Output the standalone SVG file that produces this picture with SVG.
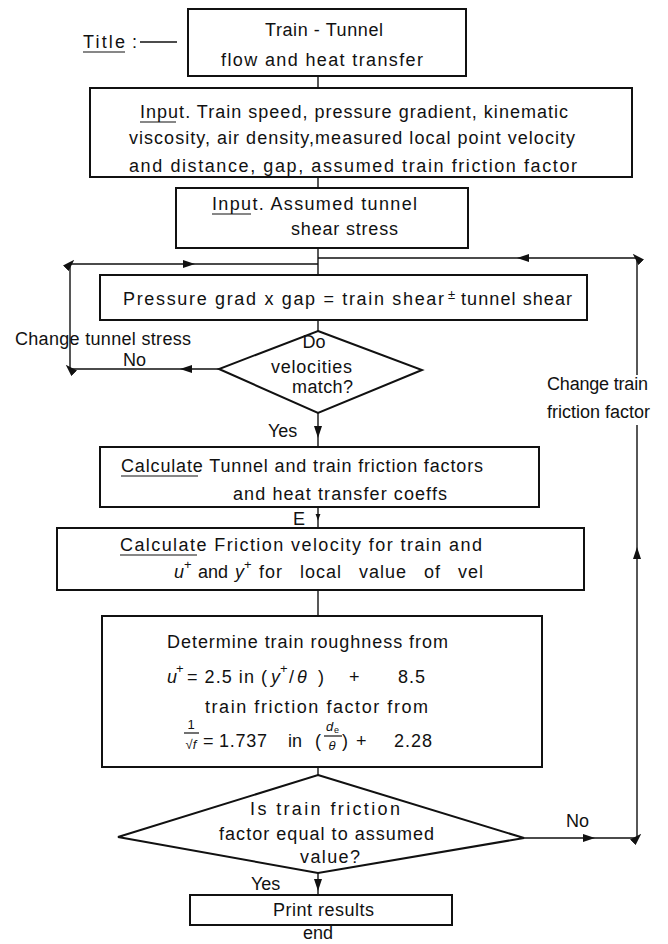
<svg xmlns="http://www.w3.org/2000/svg" width="668" height="944" viewBox="0 0 668 944">
<defs>
<style>
text{font-family:"Liberation Sans","DejaVu Sans",Arial,sans-serif;font-size:18px;fill:#111;}
.box{fill:#fff;stroke:#111;stroke-width:2;}
.ln{fill:none;stroke:#111;stroke-width:1.4;}
.ul{stroke:#111;stroke-width:1.2;}
.c{text-anchor:middle;}
.it{font-style:italic;}
.sm{font-size:13px;}
</style>
<marker id="arr" viewBox="0 0 12 8" refX="6" refY="4" markerWidth="12" markerHeight="8" orient="auto" markerUnits="userSpaceOnUse"><path d="M0,0 L12,4 L0,8 z" fill="#111"/></marker>
<marker id="dot" viewBox="0 0 8 8" refX="4" refY="4" markerWidth="7" markerHeight="7" orient="auto" markerUnits="userSpaceOnUse"><path d="M0,1 L8,4 L0,7 z" fill="#111"/></marker>
</defs>
<rect width="668" height="944" fill="#fff"/>

<g id="connectors">
<path class="ln" d="M318,77 V88"/>
<path class="ln" d="M318,177 V188"/>
<path class="ln" d="M318,248 V275"/>
<path class="ln" d="M637,375 V258 H523 H318" marker-mid="url(#arr)"/>
<path class="ln" d="M219,369 H186 H70 V264 H189 H318" marker-mid="url(#arr)"/>
<path class="ln" d="M318,320 V331"/>
<path class="ln" d="M318,413 V432 V447" marker-mid="url(#arr)"/>
<path class="ln" d="M318,507 V517 V528" marker-mid="url(#dot)"/>
<path class="ln" d="M318,590 V616"/>
<path class="ln" d="M318,767 V775"/>
<path class="ln" d="M524,838 H589 H637 V553 V425" marker-mid="url(#arr)"/>
<path class="ln" d="M318,873 V885 V895" marker-mid="url(#arr)"/>
</g>

<g id="title-label">
<text x="83" y="48" textLength="42" lengthAdjust="spacing">Title</text>
<line class="ul" x1="83" y1="52" x2="125" y2="52"/>
<text x="132" y="48">:</text>
<line class="ul" x1="140" y1="42" x2="177" y2="42" style="stroke-width:1.6"/>
</g>

<g id="title">
<rect class="box" x="188" y="9" width="278" height="67"/>
<text x="265" y="36" textLength="118" lengthAdjust="spacing">Train - Tunnel</text>
<text x="221" y="66" textLength="202" lengthAdjust="spacing">flow and heat transfer</text>
</g>

<g id="input1">
<rect class="box" x="90" y="88" width="542" height="89"/>
<text x="140" y="118" textLength="428" lengthAdjust="spacing">Input. Train speed, pressure gradient, kinematic</text>
<line class="ul" x1="140" y1="122" x2="176" y2="122"/>
<text x="129" y="144" textLength="446" lengthAdjust="spacing">viscosity, air density,measured local point velocity</text>
<text x="129" y="172" textLength="448" lengthAdjust="spacing">and distance, gap, assumed train friction factor</text>
</g>

<g id="input2">
<rect class="box" x="176" y="188" width="292" height="60"/>
<text x="212" y="210" textLength="205" lengthAdjust="spacing">Input. Assumed tunnel</text>
<line class="ul" x1="212" y1="214" x2="251" y2="214"/>
<text x="291" y="235" textLength="107" lengthAdjust="spacing">shear stress</text>
</g>

<g id="pressure">
<rect class="box" x="100" y="275" width="487" height="45"/>
<text x="123" y="305" textLength="321" lengthAdjust="spacing">Pressure grad x gap = train shear</text>
<text x="448" y="299" class="sm">±</text>
<text x="461" y="305" textLength="111" lengthAdjust="spacing">tunnel shear</text>
</g>

<g id="decision1">
<path class="box" d="M318,331 L422,370 L318,413 L219,369 Z"/>
<text class="c" x="314" y="348">Do</text>
<text x="271" y="373" textLength="81" lengthAdjust="spacing">velocities</text>
<text x="292" y="393" textLength="61" lengthAdjust="spacing">match?</text>
</g>

<g id="label-change-tunnel">
<text x="15" y="345" textLength="176" lengthAdjust="spacing">Change tunnel stress</text>
<text x="123" y="366">No</text>
</g>

<g id="label-change-train">
<text x="547" y="390" textLength="101" lengthAdjust="spacing">Change train</text>
<text x="547" y="418" textLength="103" lengthAdjust="spacing">friction factor</text>
</g>

<g id="label-yes1">
<text x="268" y="437">Yes</text>
</g>

<g id="calc1">
<rect class="box" x="100" y="447" width="439" height="60"/>
<text x="121" y="472" textLength="362" lengthAdjust="spacing">Calculate Tunnel and train friction factors</text>
<line class="ul" x1="121" y1="476" x2="198" y2="476"/>
<text x="233" y="500" textLength="214" lengthAdjust="spacing">and heat transfer coeffs</text>
</g>

<g id="label-e">
<text x="293" y="525">E</text>
</g>

<g id="calc2">
<rect class="box" x="57" y="528" width="527" height="62"/>
<text x="120" y="551" textLength="362" lengthAdjust="spacing">Calculate Friction velocity for train and</text>
<line class="ul" x1="120" y1="555" x2="197" y2="555"/>
<text x="174" y="578" class="it">u</text>
<text x="184" y="569" class="sm">+</text>
<text x="198" y="578">and</text>
<text x="235" y="578" class="it">y</text>
<text x="244" y="569" class="sm">+</text>
<text x="259" y="578" style="letter-spacing:1px;word-spacing:11px">for local value of vel</text>
</g>

<g id="determine">
<rect class="box" x="102" y="616" width="440" height="151"/>
<text x="167" y="648" textLength="281" lengthAdjust="spacing">Determine train roughness from</text>
<text x="167" y="683" class="it">u</text>
<text x="176" y="673" class="sm">+</text>
<text x="187" y="683" textLength="80" lengthAdjust="spacing">= 2.5 in (</text>
<text x="271" y="683" class="it">y</text>
<text x="280" y="673" class="sm">+</text>
<text x="289" y="683">/</text>
<text x="297" y="683" class="it">θ</text>
<text x="318" y="683">)</text>
<text x="349" y="683">+</text>
<text x="398" y="683" style="letter-spacing:1px">8.5</text>
<text x="205" y="713" textLength="223" lengthAdjust="spacing">train friction factor from</text>
<text class="c sm" x="191" y="729">1</text>
<line class="ul" x1="184" y1="733" x2="199" y2="733"/>
<text class="c sm" x="191" y="749">√<tspan class="it">f</tspan></text>
<text x="203" y="747">=</text>
<text x="219" y="747" textLength="48" lengthAdjust="spacing">1.737</text>
<text x="288" y="747">in</text>
<text x="315" y="747">(</text>
<text x="326" y="731" class="it sm">d</text>
<text x="334" y="733" style="font-size:9px">e</text>
<line class="ul" x1="324" y1="736" x2="342" y2="736"/>
<text class="c it sm" x="332" y="750">θ</text>
<text x="342" y="747">)</text>
<text x="356" y="747">+</text>
<text x="394" y="747" style="letter-spacing:1px">2.28</text>
</g>

<g id="decision2">
<path class="box" d="M318,775 L524,838 L318,873 L118,837 Z"/>
<text x="250" y="815" textLength="150" lengthAdjust="spacing">Is train friction</text>
<text x="219" y="840" textLength="215" lengthAdjust="spacing">factor equal to assumed</text>
<text x="300" y="863" textLength="60" lengthAdjust="spacing">value?</text>
</g>

<g id="label-no2">
<text x="566" y="827">No</text>
</g>

<g id="label-yes2">
<text x="251" y="890">Yes</text>
</g>

<g id="print">
<rect class="box" x="190" y="895" width="262" height="30"/>
<text x="273" y="916" textLength="101" lengthAdjust="spacing">Print results</text>
</g>

<g id="end">
<text class="c" x="318" y="939">end</text>
</g>
</svg>
